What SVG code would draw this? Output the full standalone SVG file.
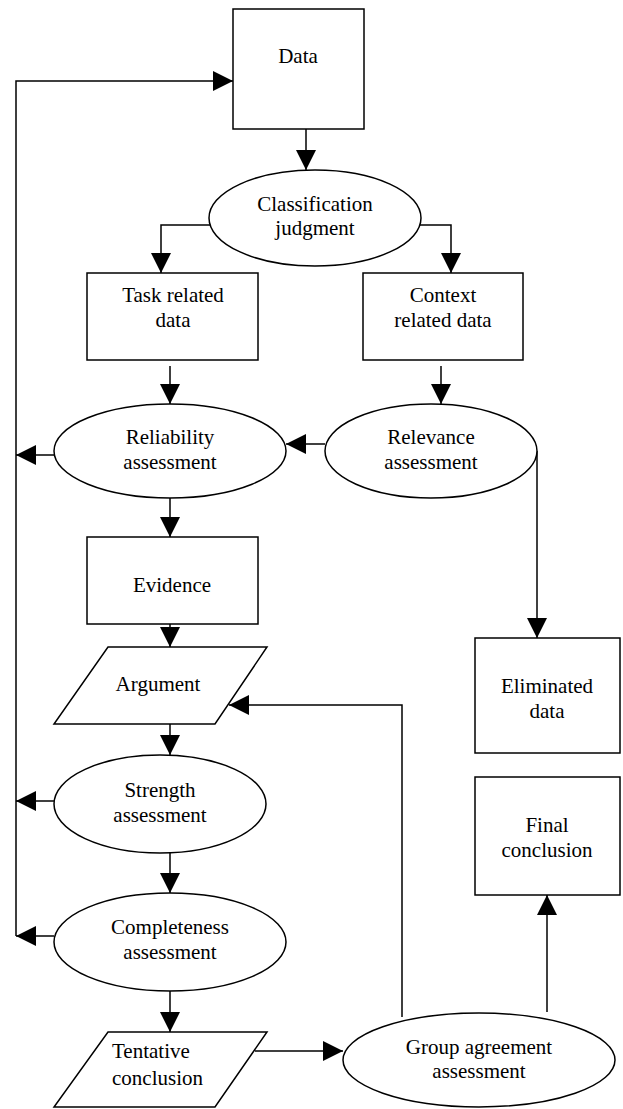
<svg xmlns="http://www.w3.org/2000/svg" width="623" height="1109" viewBox="0 0 623 1109">
<style>
.n{fill:#fff;stroke:#000;stroke-width:1.5}
.c{fill:none;stroke:#000;stroke-width:1.5}
text{font-family:"Liberation Serif","Times New Roman",serif;font-size:21px;fill:#000;text-anchor:middle}
</style>
<defs>
<marker id="ah" viewBox="0 0 20 20" refX="20" refY="10" markerWidth="20" markerHeight="20" markerUnits="userSpaceOnUse" orient="auto">
<path d="M0,0 L20,10 L0,20 z" fill="#000"/>
</marker>
</defs>
<rect width="623" height="1109" fill="#fff"/>
<g id="connectors">
<path class="c" d="M16,936 V81 H233" marker-end="url(#ah)"/>
<path class="c" d="M54,455 H16" marker-end="url(#ah)"/>
<path class="c" d="M54,801 H16" marker-end="url(#ah)"/>
<path class="c" d="M54,936 H16" marker-end="url(#ah)"/>
<path class="c" d="M306,129 V170" marker-end="url(#ah)"/>
<path class="c" d="M210,225 H161 V273" marker-end="url(#ah)"/>
<path class="c" d="M420,225 H451 V273" marker-end="url(#ah)"/>
<path class="c" d="M170,366 V404" marker-end="url(#ah)"/>
<path class="c" d="M441,366 V404" marker-end="url(#ah)"/>
<path class="c" d="M325,444 H286" marker-end="url(#ah)"/>
<path class="c" d="M537,451 V638" marker-end="url(#ah)"/>
<path class="c" d="M170,493 V537" marker-end="url(#ah)"/>
<path class="c" d="M170,624 V647" marker-end="url(#ah)"/>
<path class="c" d="M170,724 V755" marker-end="url(#ah)"/>
<path class="c" d="M170,853 V893" marker-end="url(#ah)"/>
<path class="c" d="M170,991 V1032" marker-end="url(#ah)"/>
<path class="c" d="M255,1051 H343" marker-end="url(#ah)"/>
<path class="c" d="M402,1017 V705 H229" marker-end="url(#ah)"/>
<path class="c" d="M547,1012 V895" marker-end="url(#ah)"/>
</g>
<g id="data"><rect class="n" x="233" y="9" width="131" height="120"/><text x="298" y="63">Data</text></g>
<g id="classification"><ellipse class="n" cx="315" cy="218" rx="106" ry="48"/><text x="315" y="211">Classification</text><text x="315" y="235">judgment</text></g>
<g id="task"><rect class="n" x="87" y="273" width="171" height="87"/><text x="173" y="302">Task related</text><text x="173" y="327">data</text></g>
<g id="context"><rect class="n" x="363" y="273" width="160" height="87"/><text x="443" y="302">Context</text><text x="443" y="327">related data</text></g>
<g id="reliability"><ellipse class="n" cx="170" cy="451" rx="116" ry="47"/><text x="170" y="444">Reliability</text><text x="170" y="469">assessment</text></g>
<g id="relevance"><ellipse class="n" cx="431" cy="451" rx="106" ry="47"/><text x="431" y="444">Relevance</text><text x="431" y="469">assessment</text></g>
<g id="evidence"><rect class="n" x="87" y="537" width="171" height="87"/><text x="172" y="592">Evidence</text></g>
<g id="argument"><polygon class="n" points="108,647 267,647 215,724 54,724"/><text x="158" y="691">Argument</text></g>
<g id="eliminated"><rect class="n" x="475" y="638" width="145" height="115"/><text x="547" y="693">Eliminated</text><text x="547" y="718">data</text></g>
<g id="strength"><ellipse class="n" cx="160" cy="804" rx="106" ry="49"/><text x="160" y="797">Strength</text><text x="160" y="822">assessment</text></g>
<g id="final"><rect class="n" x="475" y="777" width="145" height="118"/><text x="547" y="832">Final</text><text x="547" y="857">conclusion</text></g>
<g id="completeness"><ellipse class="n" cx="170" cy="942" rx="116" ry="49"/><text x="170" y="934">Completeness</text><text x="170" y="959">assessment</text></g>
<g id="tentative"><polygon class="n" points="108,1032 267,1032 215,1107 54,1107"/><text x="112" y="1058" style="text-anchor:start">Tentative</text><text x="112" y="1085" style="text-anchor:start">conclusion</text></g>
<g id="group"><ellipse class="n" cx="479" cy="1060" rx="136" ry="47"/><text x="479" y="1054">Group agreement</text><text x="479" y="1078">assessment</text></g>
</svg>
